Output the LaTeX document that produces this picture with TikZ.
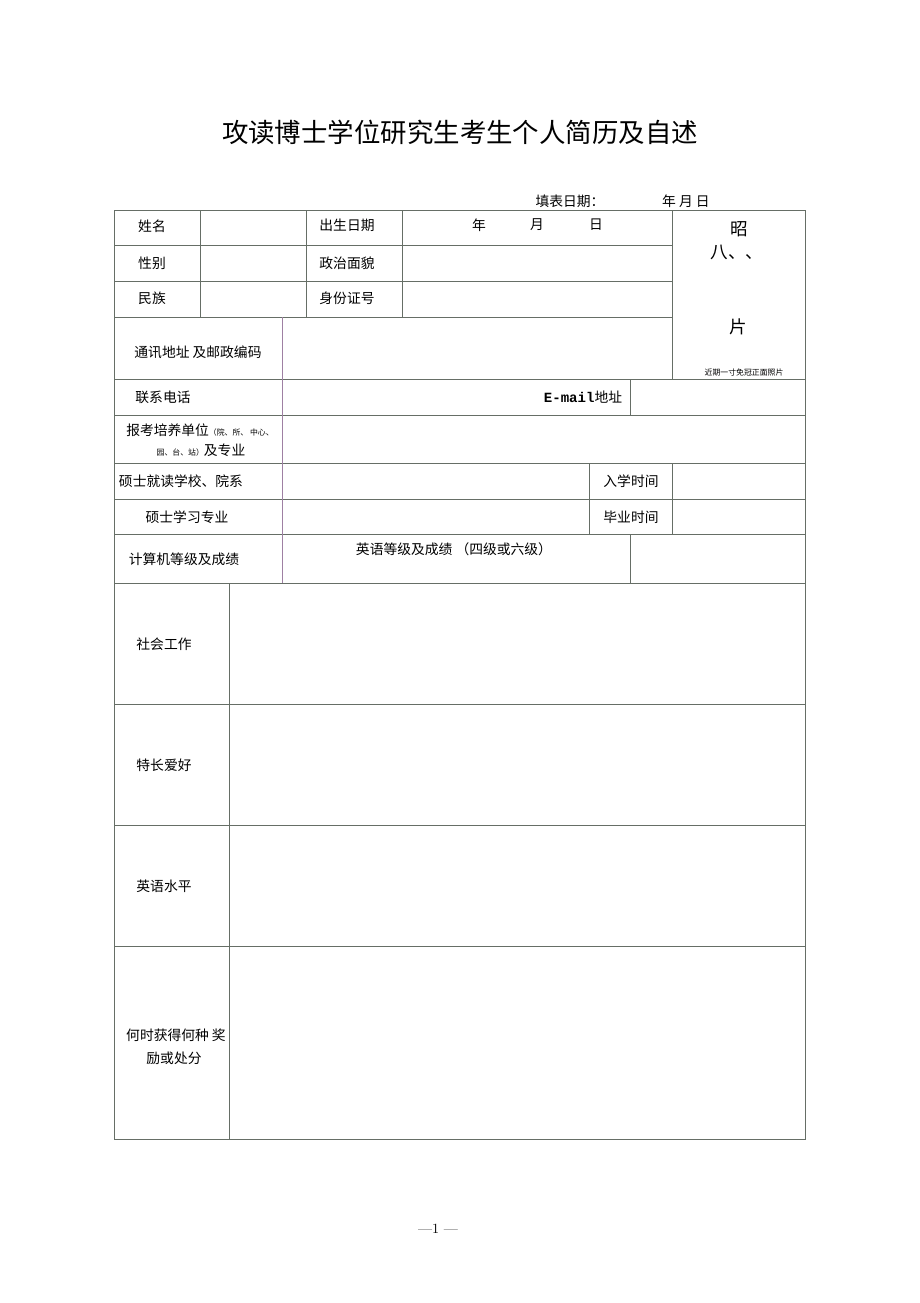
\documentclass[tikz,border=0pt]{standalone}
\usepackage{fontspec}
\newfontfamily\cjk{Noto Sans CJK SC}
\newfontfamily\mono{Liberation Mono}
\usetikzlibrary{positioning}
\definecolor{colg}{rgb}{0.40,0.43,0.40}
\definecolor{colp}{rgb}{0.62,0.50,0.64}

\begin{document}
\begin{tikzpicture}[x=0.025cm, y=-0.025cm,
    rule/.style={colg, line width=0.6pt},
    rulep/.style={colp, line width=0.6pt},
    lbl/.style={font=\cjk\fontsize{9.8}{12}\selectfont, inner sep=0pt},
    tiny/.style={font=\cjk\fontsize{5.6}{7}\selectfont, inner sep=0pt},
    big/.style={font=\cjk\fontsize{12.5}{14}\selectfont, inner sep=0pt}]
  \useasboundingbox (0,0) rectangle (920,1303);

  % title and date line
  \node[font=\cjk\fontsize{18.8}{22}\selectfont, inner sep=0pt] (title) at (460,132) {攻读博士学位研究生考生个人简历及自述};
  \node[lbl] (fill) at (570,201) {填表日期：};
  \node[lbl] (fdate) at (686,201) {年\ 月\ 日};

  % frame and rules
  \draw[rule] (114,210) rectangle (805,1139);
  \foreach \y in {245,281,317} \draw[rule] (114,\y) -- (672,\y);
  \foreach \y in {379,415,463,499,534,583,704,825,946} \draw[rule] (114,\y) -- (805,\y);
  \foreach \x in {200,306,402} \draw[rule] (\x,210) -- (\x,317);
  \draw[rule] (672,210) -- (672,379);
  \draw[rulep] (282,317) -- (282,583);
  \draw[rule] (630,379) -- (630,415);
  \draw[rule] (589,463) -- (589,534);
  \draw[rule] (672,463) -- (672,534);
  \draw[rule] (630,534) -- (630,583);
  \draw[rule] (229,583) -- (229,1139);

  % rows 1-3
  \node[lbl] (name) at (152,226) {姓名};
  \node[lbl] (sex) at (152,263) {性别};
  \node[lbl] (nation) at (152,298) {民族};
  \node[lbl] (birth) at (347,225) {出生日期};
  \node[lbl] (party) at (347,263) {政治面貌};
  \node[lbl] (idno) at (347,298) {身份证号};
  \node[lbl] (yr) at (479,225) {年};
  \node[lbl] (mon) at (537,225) {月};
  \node[lbl] (day) at (596,225) {日};

  % photo box
  \node[big] (zhao) at (739,229) {昭};
  \node[big] (ba) at (737,252) {八、、};
  \node[big] (pian) at (738,327) {片};
  \node[tiny] (photo) at (744,373) {近期一寸免冠正面照片};

  % rows 4-9
  \node[lbl] (addr) at (198,352) {通讯地址\ 及邮政编码};
  \node[lbl] (tel) at (163,397) {联系电话};
  \node[inner sep=0pt] (email) at (583,397) {{\mono\bfseries\fontsize{10}{12}\selectfont E-mail}{\cjk\fontsize{9.8}{12}\selectfont 地址}};
  \node[inner sep=0pt] (unit) at (200,430) {{\cjk\fontsize{9.8}{12}\selectfont 报考培养单位}{\cjk\fontsize{5.6}{7}\selectfont （院、所、\ 中心、}};
  \node[inner sep=0pt] (unit2) at (201,450) {{\cjk\fontsize{5.6}{7}\selectfont 园、台、站）}{\cjk\fontsize{9.8}{12}\selectfont 及专业}};
  \node[lbl] (school) at (181,481) {硕士就读学校、院系};
  \node[lbl] (major) at (187,517) {硕士学习专业};
  \node[lbl] (enter) at (631,481) {入学时间};
  \node[lbl] (grad) at (631,517) {毕业时间};
  \node[lbl] (comp) at (184,559) {计算机等级及成绩};
  \node[lbl] (eng) at (454,549) {英语等级及成绩\ （四级或六级）};

  % rows 10-13
  \node[lbl] (social) at (164,644) {社会工作};
  \node[lbl] (hobby) at (164,765) {特长爱好};
  \node[lbl] (englvl) at (164,886) {英语水平};
  \node[lbl] (award) at (176,1035) {何时获得何种\ 奖};
  \node[lbl] (award2) at (174,1058) {励或处分};

  % page number
  \node[font=\fontsize{10}{12}\selectfont, inner sep=0pt] (page) at (438,1229) {—1 —};
\end{tikzpicture}
\end{document}
